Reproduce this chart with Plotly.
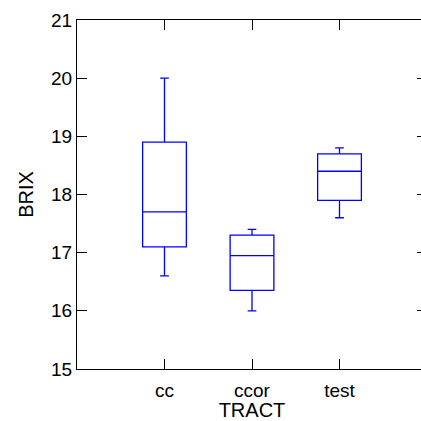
import plotly.graph_objects as go

# box statistics
tracts = ["cc", "ccor", "test"]
lower_whisker = [16.6, 16.0, 17.6]
q1 = [17.1, 16.35, 17.9]
median = [17.7, 16.95, 18.4]
q3 = [18.9, 17.3, 18.7]
upper_whisker = [20.0, 17.4, 18.8]
y_ticks = [15, 16, 17, 18, 19, 20, 21]

font = dict(family="Liberation Sans, Arial, sans-serif", size=19, color="black")

fig = go.Figure()
fig.add_trace(go.Box(
    x=[1, 2, 3],
    q1=q1, median=median, q3=q3,
    lowerfence=lower_whisker, upperfence=upper_whisker,
    width=0.5, whiskerwidth=0.2,
    line=dict(color="#0000ff", width=1.3),
    fillcolor="rgba(255,255,255,0)",
    boxpoints=False, showlegend=False,
))

# the frame runs a little past the right edge of the window, as in the original
fig.update_layout(
    width=427, height=421,
    margin=dict(l=77, r=0, t=20, b=52, autoexpand=False),
    plot_bgcolor="white", paper_bgcolor="white",
    font=font,
    xaxis=dict(
        range=[0, 4], tickmode="array", tickvals=[1, 2, 3], ticktext=tracts,
        ticks="inside", ticklen=10, tickcolor="black", tickwidth=1,
        showline=True, linecolor="black", linewidth=1, mirror="ticks",
        showgrid=False, zeroline=False, automargin=False,
        ticklabelstandoff=4,
        title=dict(text="TRACT", standoff=9, font=dict(size=20)),
    ),
    yaxis=dict(
        range=[15, 21], tickvals=y_ticks,
        ticks="inside", ticklen=10, tickcolor="black", tickwidth=1,
        showline=True, linecolor="black", linewidth=1, mirror="ticks",
        showgrid=False, zeroline=False, automargin=False,
        title=dict(text="BRIX", standoff=12, font=dict(size=20)),
    ),
)

fig.write_html("out.html", config={"displayModeBar": False},
               post_script="document.body.style.margin='0';document.body.style.overflow='hidden';")
